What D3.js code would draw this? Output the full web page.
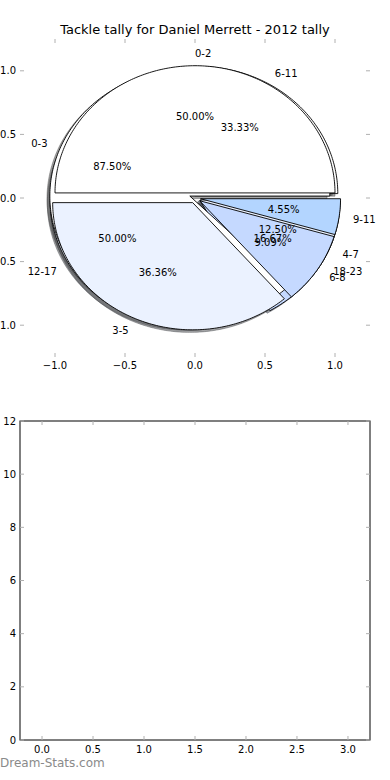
<!DOCTYPE html>
<html><head><meta charset="utf-8">
<script src="https://cdn.jsdelivr.net/npm/d3@7"></script>
<style>body{margin:0;background:#fff} svg{display:block} text{font-family:"DejaVu Sans",sans-serif;fill:#000}</style>
</head><body>
<script>
// ---- data ----
const chartTitle = "Tackle tally for Daniel Merrett - 2012 tally";
const pieDLabels = ["6-11", "12-17", "18-23"];
const pieDValues = [2, 3, 1];
const pieALabels = ["0-3", "4-7"];
const pieAValues = [7, 1];
const pieCLabels = ["0-2", "3-5", "6-8", "9-11"];
const pieCValues = [11, 8, 2, 1];
const wedgeColors = ["#FFFFFF", "#EBF2FF", "#C5D9FF", "#B3D5FF"];
const pieTicks = [-1.0, -0.5, 0.0, 0.5, 1.0];
const barXTicks = [0, 0.5, 1, 1.5, 2, 2.5, 3];
const barYTicks = [0, 2, 4, 6, 8, 10, 12];
const watermark = "Dream-Stats.com";

const W = 390, H = 780;
const svg = d3.select("body").append("svg").attr("width", W).attr("height", H);

// ---- pie axes ----
const px = d3.scaleLinear().domain([-1.25, 1.25]).range([20, 370]);
const py = d3.scaleLinear().domain([-1.25, 1.25]).range([357, 39]);
const explode = 0.04, shadowOff = -0.02;
const pieGen = d3.pie().sort(null).startAngle(0).endAngle(2 * Math.PI);
const line = d3.line().x(d => px(d[0])).y(d => py(d[1]));

function wedgePts(ox, oy, a0, a1) {
  const pts = [[ox, oy]];
  const n = Math.max(2, Math.ceil((a1 - a0) / (Math.PI / 180)));
  for (let i = 0; i <= n; i++) {
    const t = a0 + (a1 - a0) * i / n;
    pts.push([ox + Math.cos(t), oy + Math.sin(t)]);
  }
  pts.push([ox, oy]);
  return pts;
}
function shade(c) {
  const r = d3.rgb(c);
  return d3.rgb(r.r * 0.3, r.g * 0.3, r.b * 0.3).toString();
}

const pies = [
  {labels: pieDLabels, values: pieDValues},
  {labels: pieALabels, values: pieAValues},
  {labels: pieCLabels, values: pieCValues}
];
const wedges = [];
pies.forEach(p => {
  const arcs = pieGen(p.values);
  const total = d3.sum(p.values);
  arcs.forEach((a, i) => {
    const mid = (a.startAngle + a.endAngle) / 2;
    const ox = explode * Math.cos(mid), oy = explode * Math.sin(mid);
    wedges.push({a0: a.startAngle, a1: a.endAngle, mid, ox, oy,
      color: wedgeColors[i % wedgeColors.length], label: p.labels[i],
      pct: (100 * p.values[i] / total).toFixed(2) + "%"});
  });
});

const gPie = svg.append("g");
// shadows (drawn beneath all wedges)
gPie.selectAll("path.sh").data(wedges).enter().append("path")
  .attr("class", "sh")
  .attr("d", d => line(wedgePts(d.ox + shadowOff, d.oy + shadowOff, d.a0, d.a1)))
  .attr("fill", d => shade(d.color)).attr("fill-opacity", 0.5)
  .attr("stroke", d => shade(d.color)).attr("stroke-opacity", 0.5).attr("stroke-width", 0.9);
gPie.selectAll("path.w").data(wedges).enter().append("path")
  .attr("class", "w")
  .attr("d", d => line(wedgePts(d.ox, d.oy, d.a0, d.a1)))
  .attr("fill", d => d.color).attr("stroke", "#000").attr("stroke-width", 0.9)
  .attr("stroke-linejoin", "miter");
wedges.forEach(d => {
  const xt = d.ox + 1.1 * Math.cos(d.mid), yt = d.oy + 1.1 * Math.sin(d.mid);
  gPie.append("text").attr("x", px(xt)).attr("y", py(yt) + 1)
    .attr("text-anchor", xt > 0 ? "start" : "end")
    .attr("dominant-baseline", "central").attr("font-size", 10).text(d.label);
  const xp = d.ox + 0.6 * Math.cos(d.mid), yp = d.oy + 0.6 * Math.sin(d.mid);
  gPie.append("text").attr("x", px(xp)).attr("y", py(yp))
    .attr("text-anchor", "middle")
    .attr("dominant-baseline", "central").attr("font-size", 10).text(d.pct);
});

// pie axis ticks (no frame)
const tickCol = "#b0b0b0", tl = 4;
const gT = svg.append("g").attr("stroke", tickCol).attr("stroke-width", 1);
pieTicks.forEach(v => {
  gT.append("line").attr("x1", px(v)).attr("x2", px(v)).attr("y1", py(-1.25)).attr("y2", py(-1.25) - tl);
  gT.append("line").attr("x1", px(v)).attr("x2", px(v)).attr("y1", py(1.25)).attr("y2", py(1.25) + tl);
  gT.append("line").attr("y1", py(v)).attr("y2", py(v)).attr("x1", px(-1.25)).attr("x2", px(-1.25) + tl);
  gT.append("line").attr("y1", py(v)).attr("y2", py(v)).attr("x1", px(1.25)).attr("x2", px(1.25) - tl);
});
const fmt1 = v => (v < 0 ? "\u2212" : "") + Math.abs(v).toFixed(1);
pieTicks.forEach(v => {
  svg.append("text").attr("x", px(v)).attr("y", py(-1.25) + 12).attr("text-anchor", "middle")
    .attr("font-size", 10).text(fmt1(v));
  svg.append("text").attr("x", px(-1.25) - 4).attr("y", py(v)).attr("dy", "0.35em")
    .attr("text-anchor", "end").attr("font-size", 10).text(fmt1(v));
});
svg.append("text").attr("x", 195).attr("y", 34).attr("text-anchor", "middle")
  .attr("font-size", 13).text(chartTitle);

// ---- bottom axes ----
const bx = d3.scaleLinear().domain([-0.216, 3.216]).range([20, 370]);
const by = d3.scaleLinear().domain([0, 12]).range([740, 421]);
const gB = svg.append("g");
gB.append("rect").attr("x", bx(-0.216)).attr("y", by(12)).attr("width", bx(3.216) - bx(-0.216))
  .attr("height", by(0) - by(12)).attr("fill", "none").attr("stroke", "#000").attr("stroke-width", 1);
const gBT = gB.append("g").attr("stroke", tickCol).attr("stroke-width", 1);
barXTicks.forEach(v => {
  gBT.append("line").attr("x1", bx(v)).attr("x2", bx(v)).attr("y1", by(0)).attr("y2", by(0) - tl);
  gBT.append("line").attr("x1", bx(v)).attr("x2", bx(v)).attr("y1", by(12)).attr("y2", by(12) + tl);
  gB.append("text").attr("x", bx(v)).attr("y", by(0) + 13).attr("text-anchor", "middle")
    .attr("font-size", 10).text(v.toFixed(1));
});
barYTicks.forEach(v => {
  gBT.append("line").attr("y1", by(v)).attr("y2", by(v)).attr("x1", bx(-0.216)).attr("x2", bx(-0.216) + tl);
  gBT.append("line").attr("y1", by(v)).attr("y2", by(v)).attr("x1", bx(3.216)).attr("x2", bx(3.216) - tl);
  gB.append("text").attr("x", bx(-0.216) - 4).attr("y", by(v)).attr("dy", "0.35em")
    .attr("text-anchor", "end").attr("font-size", 10).text(String(v));
});
svg.append("text").attr("x", 0).attr("y", 767).attr("font-size", 12)
  .style("fill", "#8a8a8a").text(watermark);
</script>
</body></html>
